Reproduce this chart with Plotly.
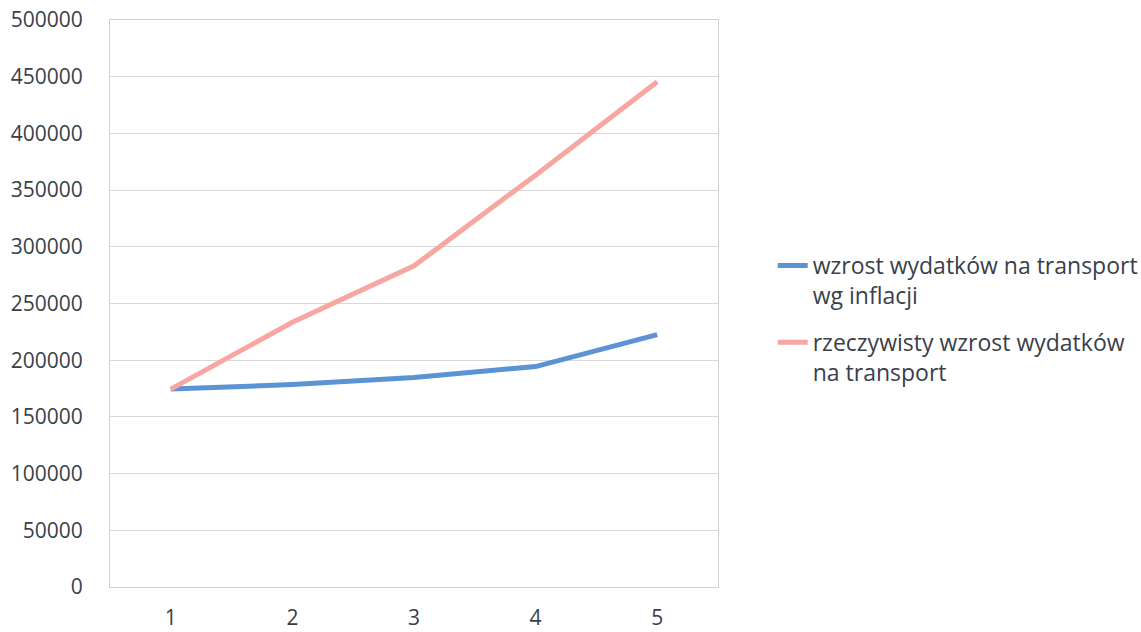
import plotly.graph_objects as go

categories = [1, 2, 3, 4, 5]
inflation_growth = [174500, 178500, 184800, 194400, 222500]
actual_growth = [174500, 233500, 283200, 363200, 445600]
series_names = ["wzrost wydatków na transport<br>wg inflacji",
                "rzeczywisty wzrost wydatków<br>na transport"]
y_ticks = [0, 50000, 100000, 150000, 200000, 250000, 300000, 350000, 400000, 450000, 500000]

font_family = "Open Sans, Noto Sans, Liberation Sans, sans-serif"
text_color = "#3a3f4a"

fig = go.Figure()
fig.add_trace(go.Scatter(x=categories, y=inflation_growth, mode="lines",
                         name=series_names[0], legendgroup="a",
                         line=dict(color="#5b93d5", width=5)))
fig.add_trace(go.Scatter(x=categories, y=actual_growth, mode="lines",
                         name=series_names[1], legendgroup="b",
                         line=dict(color="#f7a6a0", width=5)))

fig.update_layout(
    width=1141, height=632,
    margin=dict(l=110, r=423, t=20, b=45, autoexpand=False),
    paper_bgcolor="white", plot_bgcolor="white",
    font=dict(family=font_family, color=text_color, size=21),
    legend=dict(x=1.09, y=0.605, xanchor="left", yanchor="top",
                font=dict(size=23, color=text_color),
                tracegroupgap=14, valign="top"),
    showlegend=True,
)
fig.update_xaxes(range=[0.5, 5.5], tickvals=categories, ticktext=[str(c) for c in categories],
                 showgrid=False, zeroline=False, showline=True, linecolor="#d0d0d0",
                 mirror=True, ticks="", tickfont=dict(size=21), ticklabelstandoff=12,
                 automargin=False)
fig.update_yaxes(range=[0, 500000], tickvals=y_ticks, ticktext=[str(v) for v in y_ticks],
                 showgrid=True, gridcolor="#d9d9d9", gridwidth=1, zeroline=False,
                 showline=True, linecolor="#d0d0d0", mirror=True, ticks="",
                 tickfont=dict(size=21), ticklabelstandoff=22, automargin=False)

fig.write_html("out.html", config={"displayModeBar": False},
               post_script="document.body.style.margin='0';")
